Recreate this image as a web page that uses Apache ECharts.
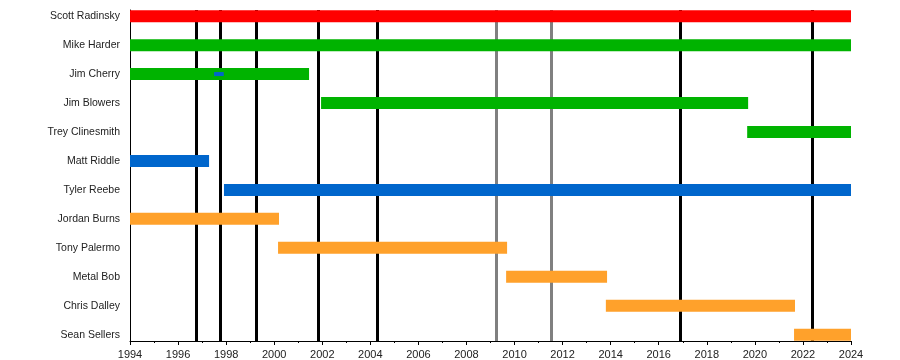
<!DOCTYPE html>
<html>
<head>
<meta charset="utf-8">
<script src="https://cdn.jsdelivr.net/npm/echarts@6/dist/echarts.min.js"></script>
<style>
html,body{margin:0;padding:0;background:#fff;}
#chart{width:900px;height:360px;}
</style>
</head>
<body>
<div id="chart"></div>
<script>
// ---- data ----
const members = ['Scott Radinsky','Mike Harder','Jim Cherry','Jim Blowers','Trey Clinesmith','Matt Riddle','Tyler Reebe','Jordan Burns','Tony Palermo','Metal Bob','Chris Dalley','Sean Sellers'];
const roles   = ['vocals','guitar','guitar','guitar','guitar','bass','bass','drums','drums','drums','drums','drums'];
const starts  = [1994, 1994, 1994, 2001.95, 2019.68, 1994, 1997.91, 1994, 2000.16, 2009.65, 2013.8, 2021.63];
const ends    = [2024, 2024, 2001.45, 2019.72, 2024, 1997.29, 2024, 2000.2, 2009.69, 2013.85, 2021.67, 2024];
// secondary (thin) role bars
const secMembers = ['Jim Cherry'];
const secRoles   = ['bass'];
const secStarts  = [1997.5];
const secEnds    = [1997.9];
// release markers
const albumYears = [1996.75, 1997.75, 1999.24, 2001.82, 2004.28, 2016.89, 2022.38];
const otherYears = [2009.23, 2011.52];
const xMin = 1994, xMax = 2024, xStep = 2;

// ---- styles ----
const roleColors = {vocals:'#ff0000', guitar:'#00b300', bass:'#0066cc', drums:'#ffa12b'};
const FONT = '"Liberation Sans", Arial, sans-serif';

const mainData = members.map((m,i)=>[i, starts[i], ends[i], roles[i]]);
const secData = secMembers.map((m,i)=>[members.indexOf(m), secStarts[i], secEnds[i], secRoles[i]]);

function barRenderer(th, src){
  return function(params, api){
    const cat = api.value(0);
    const p1 = api.coord([api.value(1), cat]);
    const p2 = api.coord([api.value(2), cat]);
    const role = src[params.dataIndex][3];
    return {
      type:'rect',
      shape:{x:p1[0], y:p1[1]-th/2, width:p2[0]-p1[0], height:th},
      style:{fill: roleColors[role]}
    };
  };
}

const chart = echarts.init(document.getElementById('chart'), null, {renderer:'canvas'});
chart.setOption({
  animation:false,
  backgroundColor:'#fff',
  grid:[
    {left:130, right:49, top:10, bottom:19, containLabel:false},
    {left:130, right:49, top:1.7, height:347.4, containLabel:false}
  ],
  xAxis:[
    {gridIndex:0, type:'value', min:xMin, max:xMax, interval:xStep,
     axisLine:{show:true, lineStyle:{color:'#000', width:1}},
     axisTick:{show:true, length:4, lineStyle:{color:'#000'}},
     minorTick:{show:true, splitNumber:2, length:2, lineStyle:{color:'#000'}},
     splitLine:{show:false},
     axisLabel:{color:'#222', fontSize:11, fontFamily:FONT, margin:8, formatter:v=>String(v)}},
    {gridIndex:1, type:'value', min:xMin, max:xMax, show:false}
  ],
  yAxis:[
    {gridIndex:0, type:'value', min:0, max:1,
     axisLine:{show:true, lineStyle:{color:'#000', width:1}},
     axisTick:{show:false}, axisLabel:{show:false}, splitLine:{show:false}},
    {gridIndex:1, type:'category', data:members, inverse:true,
     axisLine:{show:false}, axisTick:{show:false}, splitLine:{show:false},
     axisLabel:{color:'#222', fontSize:10.5, fontFamily:FONT, margin:10}}
  ],
  series:[
    {type:'line', xAxisIndex:0, yAxisIndex:0, data:[], z:1, silent:true,
     markLine:{symbol:['none','none'], silent:true, animation:false, label:{show:false},
       data: albumYears.map(y=>({xAxis:y, lineStyle:{color:'#000', width:3, type:'solid'}}))
         .concat(otherYears.map(y=>({xAxis:y, lineStyle:{color:'#808080', width:3, type:'solid'}})))
     }},
    {type:'custom', xAxisIndex:1, yAxisIndex:1, z:5, renderItem:barRenderer(12, mainData),
     encode:{x:[1,2], y:0}, data:mainData.map(d=>[d[0],d[1],d[2]])},
    {type:'custom', xAxisIndex:1, yAxisIndex:1, z:6, renderItem:barRenderer(4, secData),
     encode:{x:[1,2], y:0}, data:secData.map(d=>[d[0],d[1],d[2]])}
  ]
});
</script>
</body>
</html>
